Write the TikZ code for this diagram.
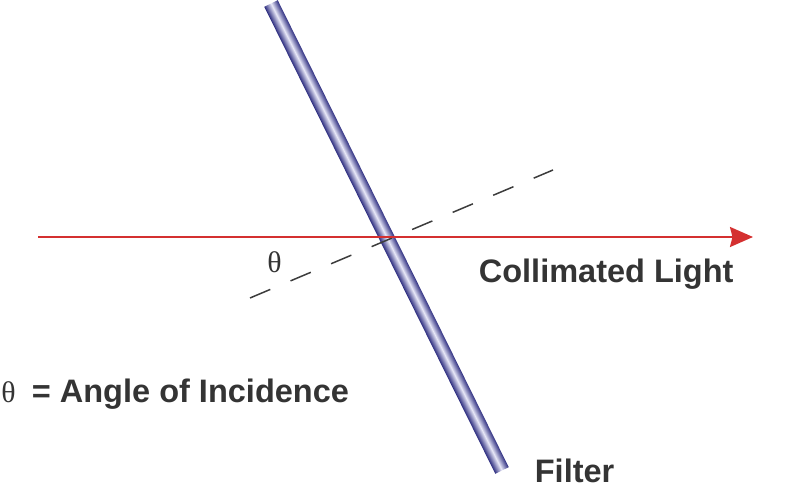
\documentclass[tikz,border=0pt]{standalone}
\usepackage{fontspec}
\setsansfont{Liberation Sans}
\newfontfamily\greekfont{Liberation Serif}
\usepackage{tikz}
\usetikzlibrary{arrows.meta}
\usepackage{xcolor}
\definecolor{lightred}{RGB}{212,48,48}
\definecolor{filterdark}{RGB}{46,46,128}
\definecolor{filterlight}{RGB}{232,232,248}
\definecolor{textgray}{RGB}{52,52,52}
\definecolor{dashgray}{RGB}{60,60,60}
\tikzset{
    filterbar/.style={rectangle, inner sep=0pt, minimum width=10.42cm, minimum height=0.3cm,
        top color=filterdark, bottom color=filterdark, middle color=filterlight},
    lbl/.style={font=\sffamily\bfseries\fontsize{18.5}{22}\selectfont, text=textgray, inner sep=0pt},
    anglbl/.style={font=\greekfont\fontsize{17}{20}\selectfont, text=textgray, inner sep=0pt}
}

\begin{document}
\begin{tikzpicture}
                \useasboundingbox (0,0) rectangle (16,9.88);

                % Points of interest
                \coordinate (hit) at (7.73,5.14);
                \coordinate (src) at (0.76,5.14);
                \coordinate (dst) at (15.06,5.14);
                \coordinate (nlow) at (5.0,3.92);
                \coordinate (nhigh) at (11.06,6.48);

                % Filter
                \begin{scope}[transform canvas={rotate around={-63.68:(hit)}}]
                    \node[filterbar] (filter) at (hit) {};
                \end{scope}

                % Normal
                \draw[dashgray, line width=0.03cm, dash pattern=on 0.44cm off 0.44cm] (nlow) -- (nhigh);

                % Collimated light
                \draw[lightred, line width=0.04cm, -{Stealth[length=0.46cm, width=0.4cm, inset=0.05cm]}] (src) -- (dst);

                % Labels
                \node[anglbl] (theta) at (5.49,4.63) {θ};
                \node[lbl, anchor=base west] (light) at (9.57,4.22) {Collimated Light};
                \node[lbl, anchor=base west] (filtername) at (10.69,0.22) {Filter};
                \node[lbl, anchor=base west] (legend) at (0.02,1.82) {{\greekfont\mdseries\fontsize{17}{20}\selectfont θ}\hspace{0.5em}= Angle of Incidence};
            \end{tikzpicture}
\end{document}
